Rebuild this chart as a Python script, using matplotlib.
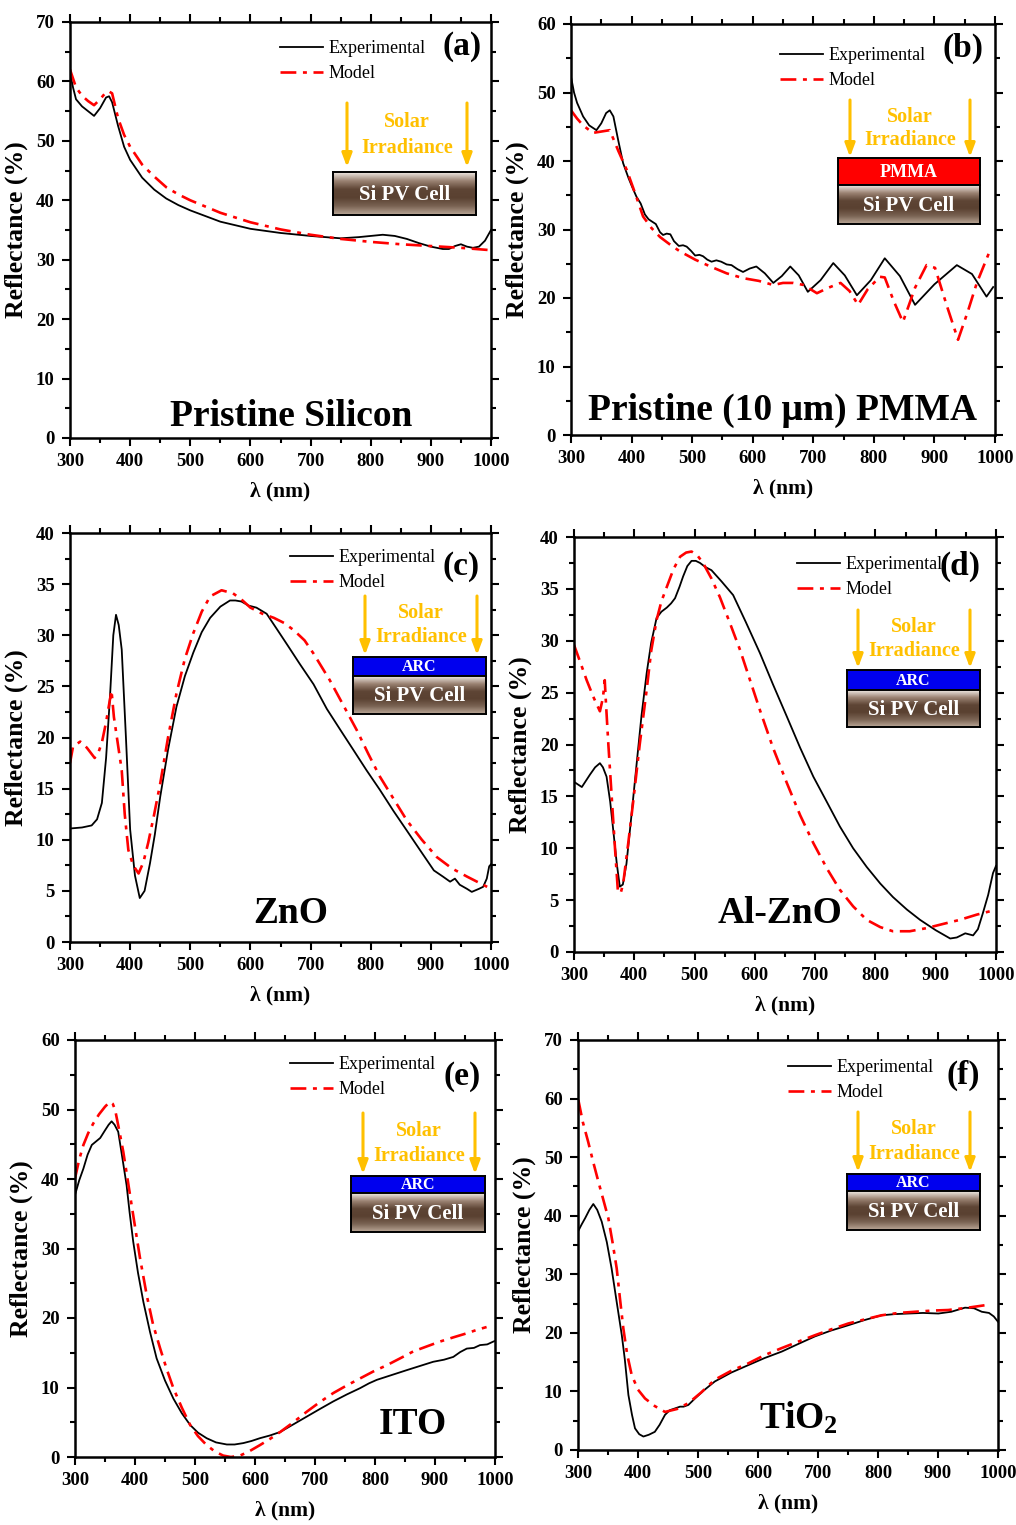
import numpy as np
import matplotlib
matplotlib.use("Agg")
import matplotlib.pyplot as plt
from matplotlib.ticker import MultipleLocator
from matplotlib.font_manager import FontProperties
from matplotlib.colors import LinearSegmentedColormap

plt.rcParams['font.family'] = ['Liberation Serif', 'DejaVu Serif']
plt.rcParams['font.weight'] = 'bold'
plt.rcParams['mathtext.fontset'] = 'custom'
plt.rcParams['mathtext.rm'] = 'Liberation Serif'
plt.rcParams['mathtext.bf'] = 'Liberation Serif:bold'

W, H = 1016, 1525

# ---- data ----
# (a) pristine silicon
wl_exp_a = [300, 305, 310, 320, 330, 340, 350, 360, 365, 370, 380, 390, 400, 420, 440, 460, 480, 500,
            550, 600, 650, 700, 750, 780, 800, 820, 840, 860, 880, 900, 920, 930, 940, 950, 960, 970,
            980, 990, 1000]
r_exp_a = [61.5, 59, 57, 55.8, 55, 54.2, 55.5, 57.3, 57.5, 56.5, 52.5, 49, 46.8, 43.8, 41.8, 40.3, 39.2,
           38.3, 36.4, 35.2, 34.5, 34, 33.6, 33.8, 34, 34.2, 34, 33.5, 32.8, 32.2, 31.8, 31.8, 32.3, 32.6,
           32.2, 32, 32.2, 33.2, 35]
wl_mod_a = [300, 310, 320, 330, 340, 350, 360, 365, 370, 380, 390, 400, 420, 440, 460, 480, 500, 550, 600,
            650, 700, 750, 800, 850, 900, 950, 1000]
r_mod_a = [62, 59, 57.6, 56.7, 56, 57, 58.2, 58.3, 58, 53.8, 51, 49, 46, 44, 42.2, 41, 40, 37.9, 36.3,
           35.1, 34.2, 33.5, 33, 32.6, 32.3, 32, 31.6]

# (b) pristine PMMA
wl_exp_b = [300, 305, 310, 320, 330, 342, 350, 358, 364, 370, 378, 386, 395, 402, 408, 415, 422, 428, 433,
            440, 447, 452, 458, 464, 470, 478, 485, 491, 498, 505, 512, 518, 525, 532, 540, 548, 557, 565,
            575, 584, 595, 606, 620, 634, 648, 662, 676, 691, 712, 733, 752, 772, 795, 818, 843, 868, 900,
            937, 962, 986, 997]
r_exp_b = [52.3, 50, 48.5, 46.5, 45.2, 44.5, 45.5, 47, 47.4, 46.5, 43, 39.7, 37.5, 36, 34.8, 33.8, 32.2,
           31.5, 31.2, 30.8, 29.6, 29.2, 29.4, 29.3, 28.3, 27.6, 27.7, 27.5, 26.9, 26.2, 26.3, 26.1, 25.6,
           25.3, 25.5, 25.3, 24.9, 24.8, 24.2, 23.8, 24.3, 24.6, 23.6, 22.2, 23.2, 24.6, 23.3, 20.9, 22.6,
           25.1, 23.3, 20.4, 22.6, 25.8, 23.2, 19, 22, 24.8, 23.5, 20.2, 21.6]
wl_mod_b = [300, 310, 320, 336, 350, 364, 378, 392, 405, 419, 433, 447, 465, 480, 505, 530, 557, 584, 610,
            634, 650, 667, 684, 706, 725, 745, 760, 774, 790, 810, 818, 833, 848, 868, 887, 901, 920, 939,
            955, 970, 992]
r_mod_b = [47.4, 46.2, 45.2, 44.1, 44.3, 44.5, 41.5, 38.7, 35.5, 31.9, 30.2, 28.9, 27.7, 26.8, 25.6, 24.6,
           23.6, 22.9, 22.5, 21.9, 22.2, 22.2, 21.9, 20.7, 21.5, 22.2, 21, 19, 21.3, 23.1, 23, 19.5, 16.5,
           21.5, 24.8, 24.4, 19, 13.9, 18, 22.2, 27]

# (c) ZnO
wl_exp_c = [300, 320, 336, 345, 353, 360, 366.5, 372, 376.5, 381, 386, 393, 400, 408, 416, 424, 433, 441,
            450, 463, 477, 491, 505, 519, 533, 550, 566, 575, 585, 597, 610, 627, 644, 662, 682, 705, 727,
            750, 771, 793, 815, 838, 860, 883, 905, 920, 932, 940, 948, 960, 968, 980, 987, 993, 997, 1000]
r_exp_c = [11.1, 11.2, 11.4, 12, 13.6, 18, 24, 30, 32, 31, 28.6, 20, 11, 6.5, 4.3, 5, 7.7, 10.5, 14.2,
           18.8, 23, 26, 28.3, 30.3, 31.7, 32.8, 33.4, 33.4, 33.3, 32.9, 32.7, 32.1, 30.6, 29.0, 27.2, 25.2,
           22.8, 20.7, 18.8, 16.8, 14.9, 12.8, 10.9, 8.9, 7.0, 6.4, 5.9, 6.2, 5.6, 5.2, 4.9, 5.2, 5.4, 6.2,
           7.4, 7.6]
wl_mod_c = [300, 305, 317, 328, 341, 347, 353, 360, 369, 373, 378, 386, 391, 397, 405, 414, 422, 430, 440,
            450, 463, 477, 491, 505, 519, 533, 552, 571, 585, 600, 620, 639, 656, 672, 690, 705, 732, 755,
            777, 796, 815, 838, 860, 885, 910, 935, 960, 980, 1000]
r_mod_c = [17.5, 19.1, 19.6, 19, 18, 18.5, 19.5, 21.5, 24.6, 22, 20, 16.8, 12.5, 9, 7.5, 6.7, 7.8, 9.7,
           12.5, 15.5, 20, 24.3, 27.7, 30.2, 32.3, 33.8, 34.4, 34.1, 33.5, 32.7, 32.1, 31.7, 31.2, 30.5,
           29.5, 28.2, 25.6, 23.1, 20.7, 18.4, 16.2, 14, 11.9, 10, 8.3, 7.2, 6.4, 5.8, 5.2]

# (d) Al-ZnO
wl_exp_d = [300, 313, 326.5, 335, 343, 348, 354, 360, 365, 371, 376, 381, 387, 395, 404, 412, 420.6, 428,
            437, 445, 454, 461, 467.6, 475, 481, 488, 495, 502, 509, 518, 528, 545, 564, 585, 608.5, 630,
            653, 675, 697, 720, 741, 763, 785.5, 808, 829, 852, 874, 900, 924, 935, 949, 962, 970, 978,
            987, 995, 1000]
r_exp_d = [16.4, 15.9, 17.1, 17.8, 18.2, 17.8, 16.9, 14.5, 11.8, 8.5, 6.3, 6.5, 8.5, 13, 18.2, 22.8, 26.9,
           29.8, 32.2, 32.8, 33.2, 33.6, 34.1, 35.2, 36.2, 37.2, 37.7, 37.7, 37.5, 37.1, 36.8, 35.7, 34.4,
           31.8, 28.8, 25.8, 22.7, 19.7, 16.9, 14.4, 12.1, 10, 8.2, 6.6, 5.3, 4.1, 3.1, 2.1, 1.3, 1.4, 1.8,
           1.6, 2.2, 3.7, 5.5, 7.6, 8.3]
wl_mod_d = [300, 310, 321, 332, 343, 348, 351, 353, 357, 362.5, 368, 373, 378, 381.6, 390, 398, 409, 420.6,
            428, 437, 445, 454, 465, 476, 486, 495, 505, 514, 528, 542, 558, 575.5, 592, 608.5, 630, 653,
            675, 697, 720, 741, 763, 785.5, 808, 829, 857, 884.6, 912, 940, 968, 995, 1000]
r_mod_d = [29.6, 28, 26.2, 24.6, 23.2, 24.5, 26.2, 24, 20, 15, 10, 5.7, 5.8, 6.6, 10.5, 14.4, 20, 25.3, 29,
           32, 33.8, 35.2, 36.9, 38.1, 38.5, 38.6, 38.2, 37.5, 36, 34.2, 31.8, 29.1, 26.2, 23.3, 19.7,
           16.3, 13.2, 10.5, 8, 6, 4.4, 3.1, 2.4, 2, 2, 2.3, 2.7, 3.1, 3.6, 4, 4.1]

# (e) ITO
wl_exp_e = [300, 307, 314, 321, 328, 335, 342, 350, 356, 361, 366, 372, 379, 386, 391, 397, 405, 414, 425,
            436, 450, 464, 478, 492, 505, 519.5, 535, 553, 566, 580.5, 594, 608, 625, 642, 664, 686, 708,
            730.5, 753, 775, 790, 803, 828, 853, 875, 897, 915, 930.5, 942, 953, 965, 975, 987, 997, 1000]
r_exp_e = [37.7, 39.8, 41.5, 43.5, 44.9, 45.4, 45.9, 47, 47.8, 48.3, 47.8, 46.8, 43, 39.1, 35.2, 31, 26.5,
           22.3, 18, 14.2, 11, 8.4, 6.3, 4.6, 3.5, 2.7, 2.1, 1.8, 1.8, 2, 2.3, 2.7, 3.1, 3.6, 4.7, 5.8,
           6.9, 8, 9, 9.9, 10.6, 11.1, 11.8, 12.5, 13.1, 13.7, 14, 14.4, 15.1, 15.6, 15.7, 16.1, 16.2, 16.6,
           16.7]
wl_mod_e = [300, 307, 314, 322, 330.5, 340, 350, 358, 363, 367, 373, 380.5, 389, 397, 408, 419.5, 430, 442,
            453, 464, 478, 492, 505, 519.5, 533, 547, 560, 575, 590, 608, 625, 642, 664, 686, 708, 730.5,
            753, 775, 797, 819.5, 842, 864, 886, 908, 930, 953, 970, 986]
r_mod_e = [40.1, 42.8, 44.9, 46.6, 48, 49.3, 50.4, 51.1, 50.8, 49.9, 47.3, 43.9, 39.2, 34.8, 28.8, 23.3,
           19.1, 15.6, 12.6, 9.9, 7.1, 4.6, 3, 1.7, 0.8, 0.2, 0, 0.2, 0.8, 1.7, 2.6, 3.6, 5, 6.5, 7.9, 9.2,
           10.3, 11.3, 12.3, 13.2, 14.2, 15.2, 15.9, 16.6, 17.2, 17.8, 18.3, 18.7]

# (f) TiO2
wl_exp_f = [300, 306, 312, 319, 325.5, 332, 339.5, 348, 356, 364, 373, 378, 384, 390, 395, 402, 409, 418,
            428, 436, 445, 453, 461.7, 470, 476, 484, 495, 510, 528, 555, 584, 611, 639.5, 667, 695, 722,
            750.5, 778, 806, 828, 850.5, 875, 900.5, 922, 945, 960, 973, 985, 993, 1000]
r_exp_f = [37.3, 38.5, 39.6, 41, 42, 41, 39, 35.5, 31, 25.6, 19.6, 15.5, 9.4, 6, 3.7, 2.7, 2.3, 2.6, 3.1,
           4.3, 6, 6.8, 7.1, 7.4, 7.4, 7.7, 8.8, 10.2, 11.7, 13.2, 14.5, 15.7, 16.8, 18.1, 19.4, 20.4, 21.3,
           22.2, 23, 23.2, 23.3, 23.4, 23.3, 23.6, 24.3, 24.2, 23.6, 23.4, 22.8, 21.9]
wl_mod_f = [300.5, 308, 317, 325, 334, 342, 350.5, 358, 364.5, 370, 375.5, 382, 389.5, 400, 411.7, 428, 445,
            465, 484, 505, 528, 555, 584, 611, 639.5, 667, 695, 722, 750.5, 778, 806, 834, 861.7, 890, 917,
            950, 984]
r_mod_f = [59.8, 56, 52.6, 49.3, 45.8, 42.8, 39.6, 35.2, 31, 25.8, 20.8, 16.3, 12.8, 10.3, 8.8, 7.5, 6.5, 7,
           8, 9.8, 12, 13.5, 14.8, 16.2, 17.4, 18.5, 19.6, 20.6, 21.6, 22.3, 23, 23.4, 23.6, 23.8, 23.9,
           24.3, 24.8]

sample_names = ["Pristine Silicon", "Pristine (10 \u03bcm) PMMA", "ZnO", "Al-ZnO", "ITO", r"$\mathbf{TiO_2}$"]
panel_tags = ["(a)", "(b)", "(c)", "(d)", "(e)", "(f)"]
y_limits = [70, 60, 40, 40, 60, 70]
y_steps = [10, 10, 5, 5, 10, 10]
top_layers = [None, "PMMA", "ARC", "ARC", "ARC", "ARC"]

exp_data = [(wl_exp_a, r_exp_a), (wl_exp_b, r_exp_b), (wl_exp_c, r_exp_c),
            (wl_exp_d, r_exp_d), (wl_exp_e, r_exp_e), (wl_exp_f, r_exp_f)]
mod_data = [(wl_mod_a, r_mod_a), (wl_mod_b, r_mod_b), (wl_mod_c, r_mod_c),
            (wl_mod_d, r_mod_d), (wl_mod_e, r_mod_e), (wl_mod_f, r_mod_f)]

# ---- layout, in reference pixels ----
ax_boxes = [(70, 22, 491, 438), (571, 24, 995, 435), (70, 533, 491, 942),
            (574, 537, 996, 952), (75, 1040, 495, 1457), (578, 1040, 998, 1450)]
legend_pos = [(280, 40), (780, 47), (290, 549), (797, 556), (290, 1056), (788, 1059)]
tag_pos = [(462, 46), (963, 48), (461, 566), (960, 566), (462, 1077), (963, 1075)]
name_pos = [(291, 416), (783, 410), (291, 913), (780, 913), (413, 1425), (798, 1418)]
# arrows x-left, x-right, y-top, y-bottom ; box x0, x1, layer top, si top, si bottom
arrow_pos = [(347, 467, 103, 167), (850, 970, 100, 157), (365, 477, 596, 655),
             (858, 970, 610, 668), (363, 475, 1113, 1174), (858, 970, 1112, 1172)]
cell_pos = [(333, 476, None, 172, 215), (838, 980, 158, 185, 224), (353, 486, 657, 676, 714),
            (847, 980, 670, 690, 727), (351, 485, 1176, 1193, 1232), (847, 980, 1174, 1191, 1230)]

GOLD = '#FFC000'
si_cmap = LinearSegmentedColormap.from_list(
    'si', ['#efe8e2', '#9a8272', '#5e4535', '#5a4131', '#7a6353', '#b9a696'])


def ff(x, y):
    return x / W, 1 - y / H


def add_cell(fig, x0, x1, y0, y1, label, layer=None):
    fx0, fy1 = ff(x0, y1)
    cax = fig.add_axes([fx0, fy1, (x1 - x0) / W, (y1 - y0) / H])
    if layer is None:
        grad = np.linspace(0, 1, 64).reshape(-1, 1)
        cax.imshow(grad, cmap=si_cmap, aspect='auto', extent=(0, 1, 0, 1))
        size = 15
    else:
        cax.set_facecolor(layer)
        size = 13 if label == 'PMMA' else 11.5
    cax.set_xlim(0, 1)
    cax.set_ylim(0, 1)
    cax.set_xticks([])
    cax.set_yticks([])
    for sp in cax.spines.values():
        sp.set_linewidth(1.4)
    cax.text(0.5, 0.47, label, color='white', fontsize=size, fontweight='bold',
             ha='center', va='center', transform=cax.transAxes)


fig = plt.figure(figsize=(W / 100, H / 100), dpi=100)

for i in range(6):
    x0, y0, x1, y1 = ax_boxes[i]
    fx0, fy1 = ff(x0, y1)
    ax = fig.add_axes([fx0, fy1, (x1 - x0) / W, (y1 - y0) / H])

    wl_e, r_e = exp_data[i]
    wl_m, r_m = mod_data[i]
    l1, = ax.plot(wl_e, r_e, color='black', lw=1.3, label='Experimental')
    l2, = ax.plot(wl_m, r_m, color='red', lw=1.9, ls=(0, (6, 2.5, 1.5, 2.5)), label='Model')

    ax.set_xlim(300, 1000)
    ax.set_ylim(0, y_limits[i])
    ax.xaxis.set_major_locator(MultipleLocator(100))
    ax.xaxis.set_minor_locator(MultipleLocator(50))
    ax.yaxis.set_major_locator(MultipleLocator(y_steps[i]))
    ax.yaxis.set_minor_locator(MultipleLocator(y_steps[i] / 2))
    ax.tick_params(which='both', direction='out', top=True, right=True, width=1.5, labelsize=13.5, pad=5)
    ax.tick_params(which='major', length=6)
    ax.tick_params(which='minor', length=3.5)
    for sp in ax.spines.values():
        sp.set_linewidth(1.8)
    ax.set_xlabel('\u03bb (nm)', fontsize=15.5, fontweight='bold', labelpad=8)
    ax.set_ylabel('Reflectance (%)', fontsize=18.5, fontweight='bold', labelpad=6)

    lx, ly = ff(*legend_pos[i])
    ax.legend(handles=[l1, l2], loc='upper left', bbox_to_anchor=(lx, ly),
              bbox_transform=fig.transFigure, frameon=False, borderpad=0, borderaxespad=0,
              handlelength=2.4, handletextpad=0.3, labelspacing=0.45,
              prop=FontProperties(family='Liberation Serif', size=13, weight='normal'))

    tx, ty = ff(*tag_pos[i])
    fig.text(tx, ty, panel_tags[i], fontsize=24, fontweight='bold', ha='center', va='center')
    nx, ny = ff(*name_pos[i])
    fig.text(nx, ny, sample_names[i], fontsize=27, fontweight='bold', ha='center', va='center')

    # solar irradiance sketch
    ax_l, ax_r, ay0, ay1 = arrow_pos[i]
    for axx in (ax_l, ax_r):
        ax.annotate('', xy=ff(axx, ay1), xytext=ff(axx, ay0), xycoords='figure fraction',
                    textcoords='figure fraction',
                    arrowprops=dict(arrowstyle='-|>,head_width=0.3,head_length=0.8',
                                    color=GOLD, lw=2.2, shrinkA=0, shrinkB=0))
    mx = (ax_l + ax_r) / 2
    gap = ay1 - ay0
    fig.text(*ff(mx, ay0 + 0.29 * gap), 'Solar', color=GOLD, fontsize=14.5, fontweight='bold',
             ha='center', va='center')
    fig.text(*ff(mx, ay0 + 0.70 * gap), 'Irradiance', color=GOLD, fontsize=14.5, fontweight='bold',
             ha='center', va='center')

    bx0, bx1, lt, st, sb = cell_pos[i]
    if top_layers[i] == 'PMMA':
        add_cell(fig, bx0, bx1, lt, st, 'PMMA', layer='#FF0000')
    elif top_layers[i] == 'ARC':
        add_cell(fig, bx0, bx1, lt, st, 'ARC', layer='#0000EE')
    add_cell(fig, bx0, bx1, st, sb, 'Si PV Cell')

fig.savefig('out.png', dpi=100)
